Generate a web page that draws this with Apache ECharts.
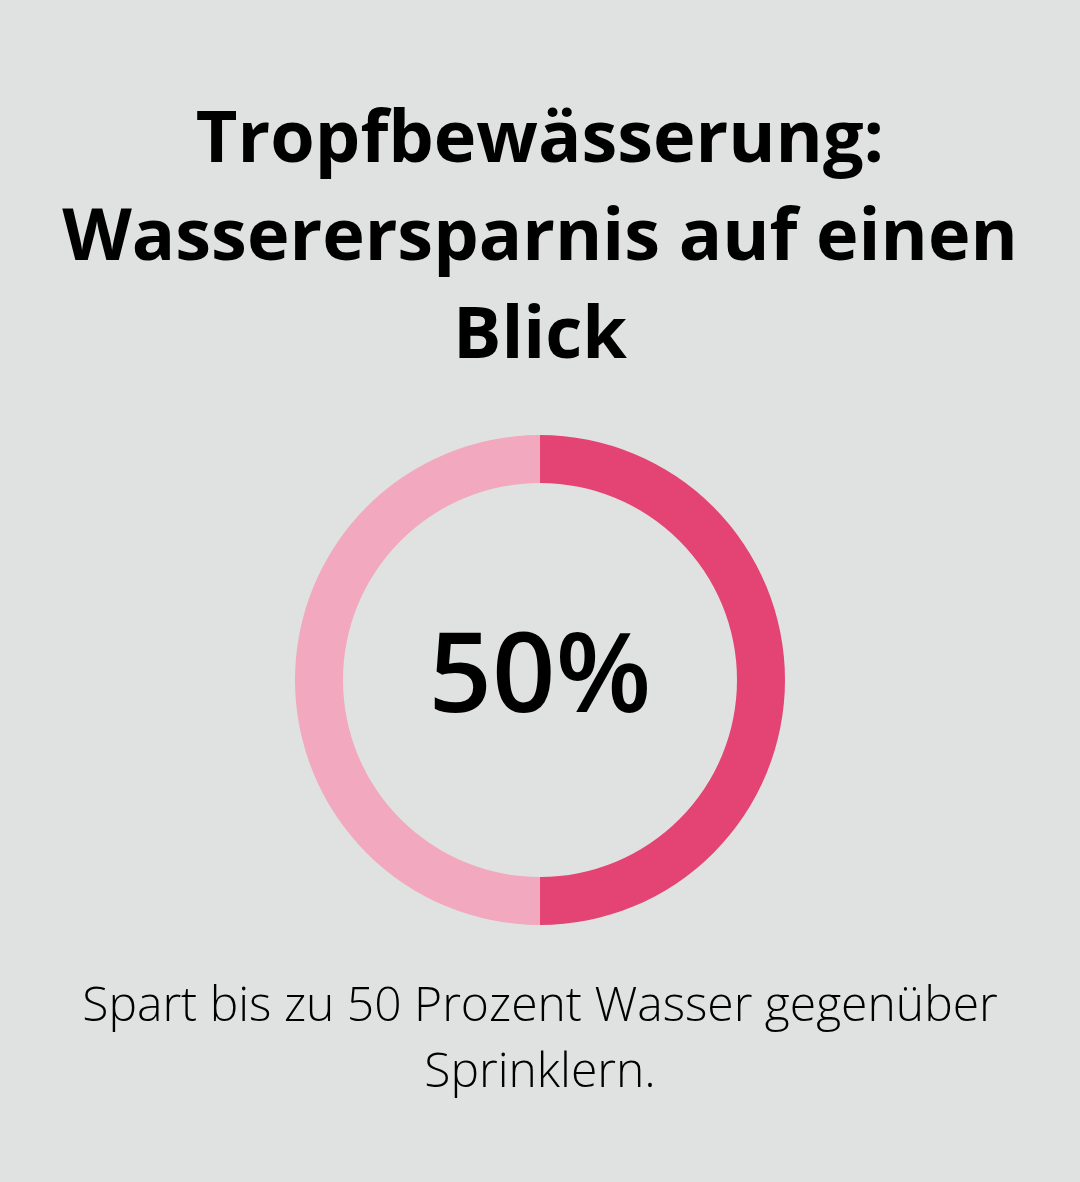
<!DOCTYPE html>
<html>
<head>
<meta charset="utf-8">
<script src="https://cdn.jsdelivr.net/npm/echarts@6/dist/echarts.min.js"></script>
<style>
html,body{margin:0;padding:0;background:#e0e2e1;}
#chart{width:1080px;height:1182px;}
</style>
</head>
<body>
<div id="chart"></div>
<script>
var titleLines = ['Tropfbewässerung:', 'Wasserersparnis auf einen', 'Blick'];
var categories = ['Ersparnis', 'Rest'];
var values = [50, 50];
var centerLabel = '50%';
var captionLines = ['Spart bis zu 50 Prozent Wasser gegenüber', 'Sprinklern.'];
var colors = ['#e44474', '#f2a8be'];

var chart = echarts.init(document.getElementById('chart'), null, {renderer: 'canvas'});
chart.setOption({
  backgroundColor: '#e0e2e1',
  animation: false,
  graphic: [
    {
      type: 'text', x: 540, y: 92,
      style: {text: titleLines.join('\n'), textAlign: 'center', textVerticalAlign: 'top',
        font: 'bold 72px "Open Sans"', lineHeight: 98, fill: '#000'}
    },
    {
      type: 'text', x: 540, y: 680,
      style: {text: centerLabel, textAlign: 'center', textVerticalAlign: 'middle',
        font: '600 111px "Open Sans"', fill: '#000'}
    },
    {
      type: 'text', x: 540, y: 974,
      style: {text: captionLines.join('\n'), textAlign: 'center', textVerticalAlign: 'top',
        font: '300 48px "Open Sans"', lineHeight: 66, fill: '#000'}
    }
  ],
  series: [{
    type: 'pie',
    center: [540, 680],
    radius: [197, 245],
    startAngle: 90,
    clockwise: true,
    label: {show: false},
    labelLine: {show: false},
    silent: true,
    itemStyle: {borderWidth: 0},
    data: categories.map(function (c, i) {
      return {name: c, value: values[i], itemStyle: {color: colors[i]}};
    })
  }]
});
</script>
</body>
</html>
